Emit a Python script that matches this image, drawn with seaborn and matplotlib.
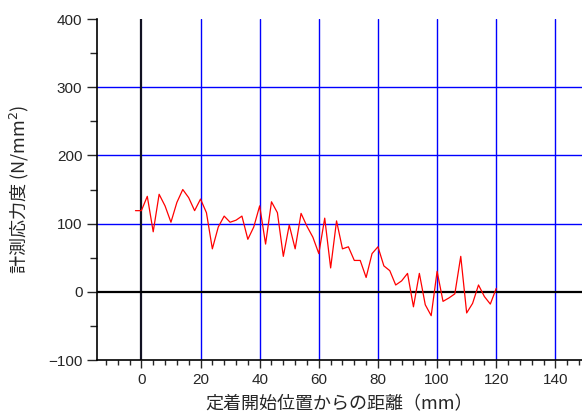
import numpy as np
import pandas as pd
import matplotlib
matplotlib.use("Agg")
import matplotlib.pyplot as plt
from matplotlib.ticker import MultipleLocator
import seaborn as sns

# distance from anchorage start (mm) and measured stress (N/mm2)
distance = list(range(-2, 121, 2))
stress = [119, 119, 140, 88, 143, 126, 102, 131, 150, 138,
          119, 136, 116, 63, 95, 111, 102, 105, 111, 77,
          95, 126, 70, 132, 116, 52, 98, 63, 115, 96,
          80, 56, 108, 35, 104, 63, 66, 46, 46, 21,
          56, 66, 38, 31, 10, 16, 27, -22, 27, -19,
          -35, 30, -14, -9, -3, 52, -31, -17, 10, -7,
          -18, 5]
x_grid = [20, 40, 60, 80, 100, 120, 140]
y_grid = [100, 200, 300]

df = pd.DataFrame({"distance": distance, "stress": stress})

sns.set_style("ticks")
plt.rcParams['font.family'] = ['Noto Sans CJK JP', 'DejaVu Sans']

fig = plt.figure(figsize=(5.82, 4.16), dpi=100)
ax = fig.add_axes([0.1667, 0.1346, 0.8333, 0.8197])

for xv in x_grid:
    ax.axvline(xv, color='#0000ff', lw=1.0, zorder=1)
for yv in y_grid:
    ax.axhline(yv, color='#0000ff', lw=1.0, zorder=1)
ax.axvline(0, color='#111122', lw=1.6, zorder=2)
ax.axhline(0, color='black', lw=1.6, zorder=2)

sns.lineplot(data=df, x="distance", y="stress", color='red', lw=0.9, ax=ax, zorder=3)

ax.set_xlim(-15, 149)
ax.set_ylim(-100, 400)
ax.xaxis.set_minor_locator(MultipleLocator(4))
ax.yaxis.set_major_locator(MultipleLocator(100))
ax.yaxis.set_minor_locator(MultipleLocator(50))
ax.set_xticks([0, 20, 40, 60, 80, 100, 120, 140])
ax.set_xticklabels(['0', '20', '40', '60', '80', '100', '120', '140'])
ax.tick_params(axis='x', which='major', direction='out', length=6, width=1, labelsize=11)
ax.tick_params(axis='x', which='minor', direction='out', length=3.5, width=1)
ax.tick_params(axis='y', which='major', direction='out', length=7, width=1, labelsize=11)
ax.tick_params(axis='y', which='minor', direction='out', length=5, width=1)
for lab in ax.get_xticklabels() + ax.get_yticklabels():
    lab.set_family(['Liberation Sans', 'DejaVu Sans'])

for s in ['top', 'right']:
    ax.spines[s].set_visible(False)
for s in ['left', 'bottom']:
    ax.spines[s].set_color('black')
    ax.spines[s].set_linewidth(1.2)

ax.set_xlabel("定着開始位置からの距離（mm）", fontsize=13, labelpad=6)
ax.set_ylabel("計測応力度 (N/mm$^{2}$)", fontsize=13, labelpad=12)

fig.savefig("out.png", dpi=100)
